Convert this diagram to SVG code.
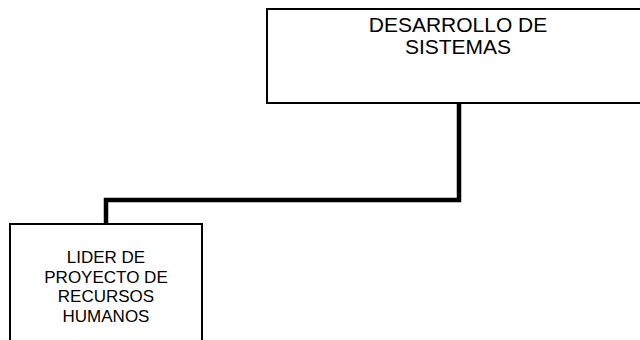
<svg xmlns="http://www.w3.org/2000/svg" width="640" height="340" viewBox="0 0 640 340">
<style>
.box{fill:#fff;stroke:#000;stroke-width:2}
.lbl{font-family:"Liberation Sans",Arial,sans-serif;fill:#000;text-anchor:middle}
.conn{fill:none;stroke:#000;stroke-width:4.5;stroke-linejoin:miter;stroke-linecap:butt}
</style>
<rect width="640" height="340" fill="#fff"/>
<g id="connectors">
<polyline class="conn" points="459,103 459,200 106,200 106,224"/>
</g>
<g id="node-desarrollo">
<rect class="box" x="267" y="9" width="384" height="94"/>
<text class="lbl" font-size="21" x="458" y="31.5">DESARROLLO DE</text>
<text class="lbl" font-size="21" x="458" y="53.5">SISTEMAS</text>
</g>
<g id="node-lider">
<rect class="box" x="10" y="224" width="192" height="130"/>
<text class="lbl" font-size="17" x="106" y="263">LIDER DE</text>
<text class="lbl" font-size="17" x="106" y="282.5">PROYECTO DE</text>
<text class="lbl" font-size="17" x="106" y="302">RECURSOS</text>
<text class="lbl" font-size="17" x="106" y="321.5">HUMANOS</text>
</g>
</svg>
